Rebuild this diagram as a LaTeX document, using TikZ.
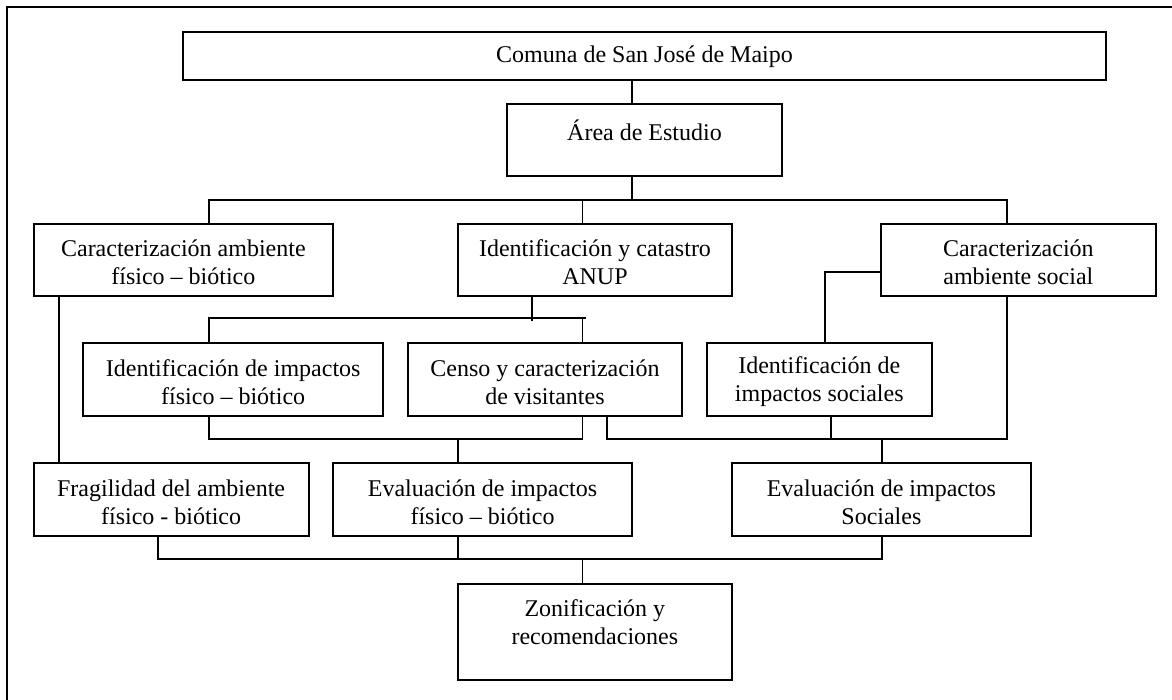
\documentclass[tikz,border=0pt]{standalone}
\usepackage{fontspec}
\setmainfont{Liberation Serif}
\usetikzlibrary{fit}
\begin{document}
\begin{tikzpicture}[x=1pt,y=-1pt,
  box/.style={draw=black,line width=2pt,inner sep=0pt,outer sep=0pt,rectangle},
  txt/.style={font=\fontsize{24}{28}\selectfont,align=center,inner sep=0pt},
  conn/.style={draw=black,line width=1.9pt,line cap=rect}]
\useasboundingbox (0,0) rectangle (1172,700);
\begin{scope}
\clip (0,0) rectangle (1172,700);
\draw[line width=2.3pt] (7,6.7) rectangle (1190,720);
\end{scope}
% boxes
\node[box,fit={(183,31.7) (1106,80)}] (comuna) {};
\node[box,fit={(507,104) (782,176)}] (area) {};
\node[box,fit={(33.7,224) (333,296)}] (cfb) {};
\node[box,fit={(458,224) (732,296)}] (cat) {};
\node[box,fit={(881,224) (1155.7,296)}] (cas) {};
\node[box,fit={(83.4,343.3) (383,416)}] (ifb) {};
\node[box,fit={(408,343.3) (682,416)}] (cen) {};
\node[box,fit={(706.8,343.3) (931.8,416)}] (ids) {};
\node[box,fit={(33.7,463.3) (308.5,535.7)}] (fra) {};
\node[box,fit={(333,463.3) (632,535.7)}] (efb) {};
\node[box,fit={(731.8,463.3) (1031,535.7)}] (eso) {};
\node[box,fit={(457.7,584) (732,680)}] (zon) {};
% texts
\node[txt] (comuna-t) at (644.5,57) {Comuna de San José de Maipo};
\node[txt] (area-t) at (644.5,130) {Área de Estudio};
\node[txt] (cfb-t) at (183.35,262) {Caracterización ambiente\\físico – biótico};
\node[txt] (cat-t) at (595,262) {Identificación y catastro\\ANUP};
\node[txt] (cas-t) at (1018.35,262) {Caracterización\\ambiente social};
\node[txt] (ifb-t) at (233.2,382) {Identificación de impactos\\físico – biótico};
\node[txt] (cen-t) at (545,382) {Censo y caracterización\\de visitantes};
\node[txt] (ids-t) at (819.3,382) {Identificación de\\impactos sociales};
\node[txt] (fra-t) at (171.1,502) {Fragilidad del ambiente\\físico - biótico};
\node[txt] (efb-t) at (482.5,502) {Evaluación de impactos\\físico – biótico};
\node[txt] (eso-t) at (881.4,502) {Evaluación de impactos\\Sociales};
\node[txt] (zon-t) at (594.85,622.5) {Zonificación y\\recomendaciones};
% junction coordinates
\coordinate (b1c) at (632,200);
\coordinate (b1l) at (208.6,200);
\coordinate (b1m) at (582.5,200);
\coordinate (b1r) at (1006.6,200);
\coordinate (b2l) at (208.6,317.7);
\coordinate (b2m) at (582.5,317.7);
\coordinate (b2r) at (584.8,317.7);
\coordinate (b2t) at (532,320.5);
\coordinate (s1) at (825,272);
\coordinate (b3l) at (208.6,439.3);
\coordinate (b3m) at (457.7,439.3);
\coordinate (b3r) at (582.5,439.3);
\coordinate (r3l) at (607,439.3);
\coordinate (r3m) at (831.4,439.3);
\coordinate (r3d) at (882,439.3);
\coordinate (r3r) at (1006.6,439.3);
\coordinate (v1) at (59.3,0);
\coordinate (b4l) at (158.4,559.3);
\coordinate (b4a) at (457.7,559.3);
\coordinate (b4z) at (582.5,559.3);
\coordinate (b4r) at (882,559.3);
% connectors
\draw[conn] (comuna.south -| b1c) -- (area.north -| b1c);
\draw[conn] (area.south -| b1c) -- (b1c);
\draw[conn] (cfb.north -| b1l) -- (b1l) -- (b1r) -- (cas.north -| b1r);
\draw[conn] (b1m) -- (cat.north -| b1m);
\draw[conn] (cat.south -| b2t) -- (b2t);
\draw[conn] (ifb.north -| b2l) -- (b2l) -- (b2r);
\draw[conn] (b2m) -- (cen.north -| b2m);
\draw[conn] (cas.west |- s1) -- (s1) -- (ids.north -| s1);
\draw[conn] (ifb.south -| b3l) -- (b3l) -- (b3r) -- (cen.south -| b3r);
\draw[conn] (b3m) -- (efb.north -| b3m);
\draw[conn] (cen.south -| r3l) -- (r3l) -- (r3r) -- (cas.south -| r3r);
\draw[conn] (ids.south -| r3m) -- (r3m);
\draw[conn] (r3d) -- (eso.north -| r3d);
\draw[conn] (cfb.south -| v1) -- (fra.north -| v1);
\draw[conn] (fra.south -| b4l) -- (b4l) -- (b4r) -- (eso.south -| b4r);
\draw[conn] (efb.south -| b4a) -- (b4a);
\draw[conn] (b4z) -- (zon.north -| b4z);
\end{tikzpicture}
\end{document}
